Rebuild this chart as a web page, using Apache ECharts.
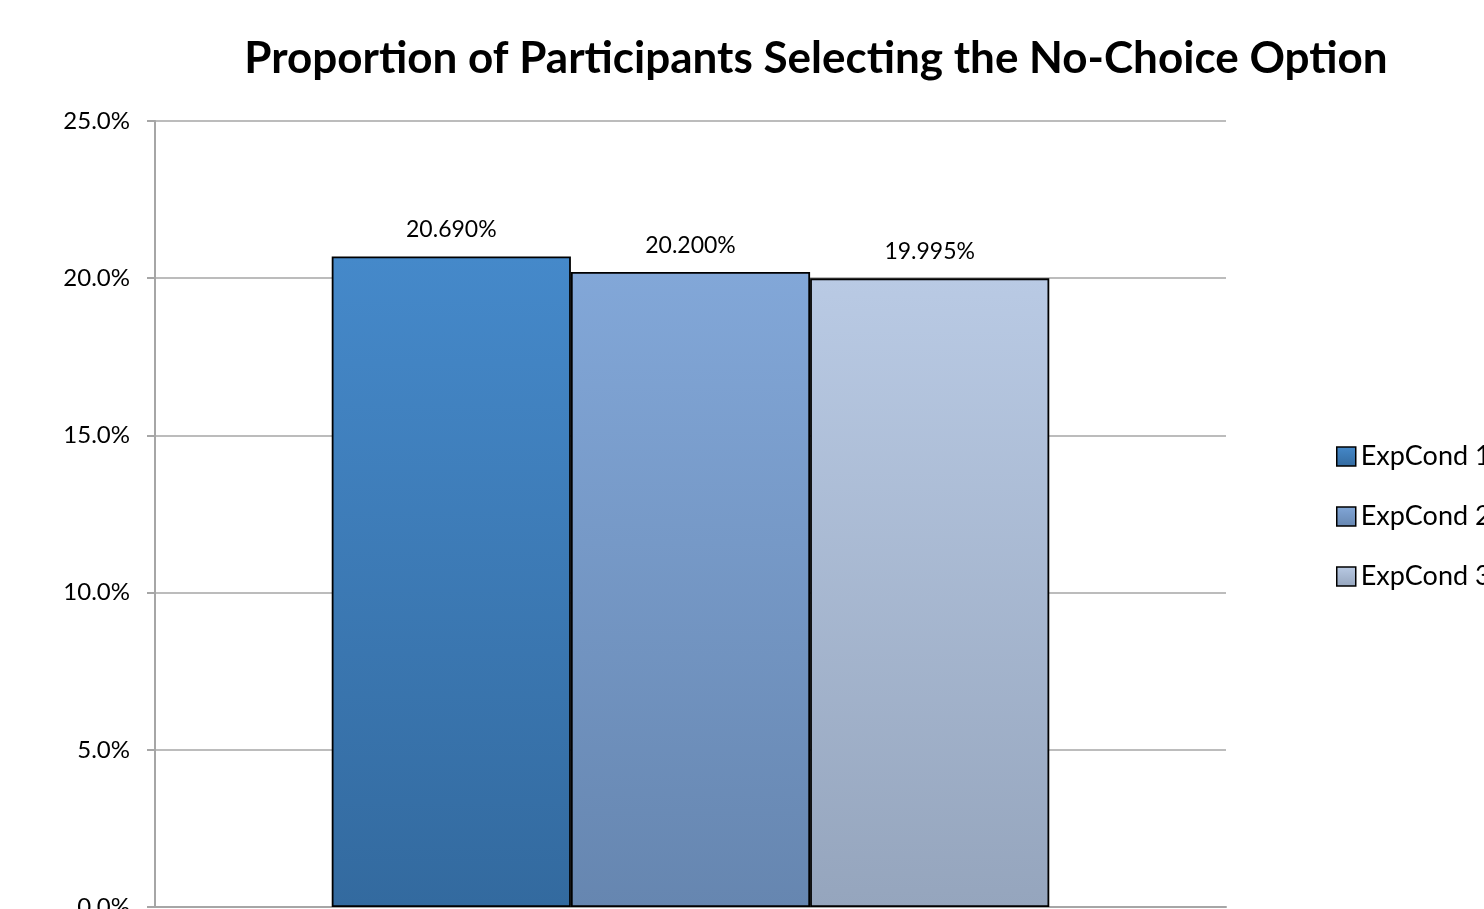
<!DOCTYPE html>
<html>
<head>
<meta charset="utf-8">
<script src="https://cdn.jsdelivr.net/npm/echarts@6/dist/echarts.min.js"></script>
<style>
  html, body { margin: 0; padding: 0; background: #fff; overflow: hidden; }
  #chart { width: 1484px; height: 909px; }
</style>
</head>
<body>
<div id="chart"></div>
<script>
// Share of participants choosing the no-choice option, per experimental condition
const categories = [''];
const seriesNames = ['ExpCond 1', 'ExpCond 2', 'ExpCond 3'];
const seriesValues = [20.690, 20.200, 19.995];
const yTicks = [0, 5, 10, 15, 20, 25];

// top / bottom gradient stops for each condition
const barColors = [
  ['#4589CA', '#336A9F'],
  ['#82A7D8', '#6686B0'],
  ['#B9CAE4', '#95A5BD']
];

const font = 'Lato, "Open Sans", sans-serif';

const chart = echarts.init(document.getElementById('chart'), null, { renderer: 'canvas' });

const series = seriesNames.map((name, i) => ({
  name: name,
  type: 'bar',
  data: [seriesValues[i]],
  barGap: '0%',
  barCategoryGap: '33%',
  itemStyle: {
    color: new echarts.graphic.LinearGradient(0, 0, 0, 1, [
      { offset: 0, color: barColors[i][0] },
      { offset: 1, color: barColors[i][1] }
    ]),
    borderColor: '#000',
    borderWidth: 1.8
  },
  label: {
    show: true,
    position: 'top',
    distance: 15,
    color: '#000',
    fontFamily: font,
    fontSize: 23,
    formatter: p => p.value.toFixed(3) + '%'
  }
}));

chart.setOption({
  animation: false,
  backgroundColor: '#fff',
  title: {
    text: 'Proportion of Participants Selecting the No-Choice Option',
    left: 811,
    top: 32,
    textAlign: 'center',
    textStyle: { fontFamily: font, fontWeight: 'bold', fontSize: 44, color: '#000' }
  },
  legend: {
    orient: 'vertical',
    left: 1331,
    top: 438,
    itemWidth: 19,
    itemHeight: 19,
    itemGap: 33,
    icon: 'rect',
    textStyle: { fontFamily: font, fontSize: 27, lineHeight: 27, color: '#000', padding: [0, 0, 0, 0] },
    itemStyle: { borderColor: '#000', borderWidth: 1.5 },
    data: seriesNames
  },
  grid: { left: 155, right: 258, top: 121, bottom: 2, containLabel: false, outerBoundsMode: 'none' },
  xAxis: {
    type: 'category',
    data: categories,
    axisLine: { lineStyle: { color: '#a6a6a6', width: 2 } },
    axisTick: { show: false },
    axisLabel: { show: false }
  },
  yAxis: {
    type: 'value',
    min: yTicks[0],
    max: yTicks[yTicks.length - 1],
    interval: 5,
    axisLine: { show: true, lineStyle: { color: '#a6a6a6', width: 2 } },
    axisTick: { show: true, length: 8, lineStyle: { color: '#a6a6a6', width: 2 } },
    splitLine: { lineStyle: { color: '#a6a6a6', width: 1.5 } },
    axisLabel: {
      margin: 25,
      color: '#000',
      fontFamily: font,
      fontSize: 24,
      formatter: v => v.toFixed(1) + '%'
    }
  },
  series: series
});
</script>
</body>
</html>
